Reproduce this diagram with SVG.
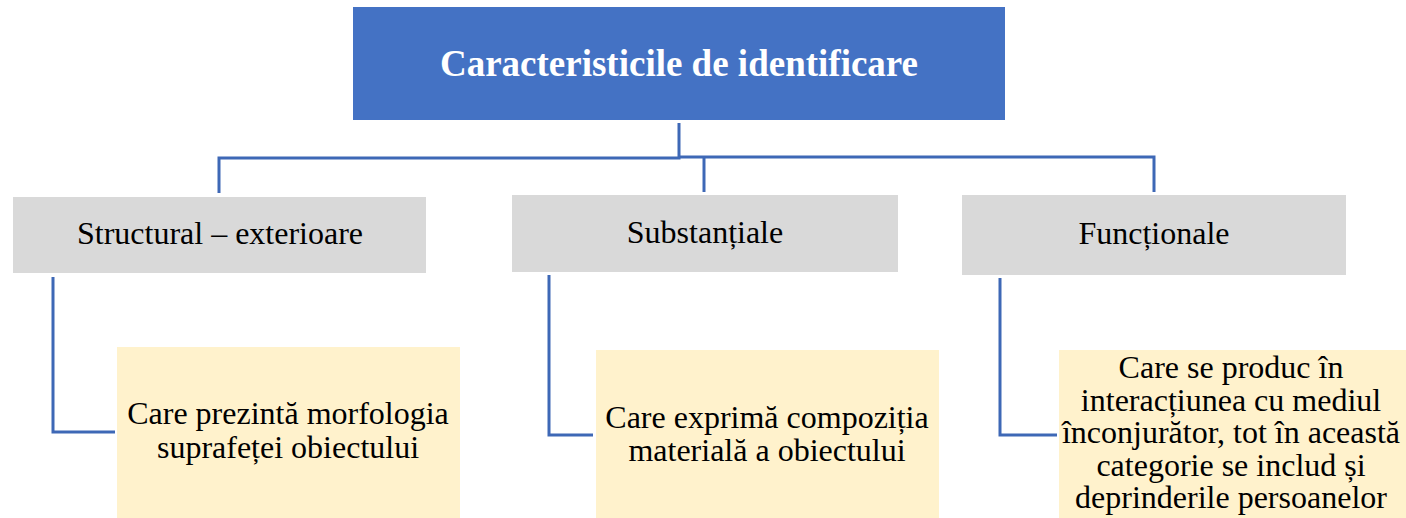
<svg xmlns="http://www.w3.org/2000/svg" width="1406" height="518" viewBox="0 0 1406 518">
<style>
.t{font-family:"Liberation Serif","Times New Roman",serif;font-size:32px;fill:#000;text-anchor:middle}
.s{font-size:31px}
.title{font-family:"Liberation Serif","Times New Roman",serif;font-size:37px;font-weight:bold;fill:#fff;text-anchor:middle}
.gray{fill:#D9D9D9}
.yel{fill:#FFF2CC}
.c{fill:none;stroke:#3E68B6;stroke-width:3}
</style>
<rect width="1406" height="518" fill="#fff"/>
<g id="connectors">
<polyline class="c" points="679,123 679,158 219,158 219,193"/>
<polyline class="c" points="679,157 1154,157 1154,192"/>
<line class="c" x1="704" y1="157" x2="704" y2="192"/>
<polyline class="c" points="53,277 53,432 115,432"/>
<polyline class="c" points="549,275 549,435 593,435"/>
<polyline class="c" points="1000,278 1000,435 1057,435"/>
</g>
<g id="root">
<rect x="353" y="7" width="652" height="113" fill="#4472C4"/>
<text class="title" x="679" y="76">Caracteristicile de identificare</text>
</g>
<g id="structural">
<rect class="gray" x="13" y="197" width="413" height="76"/>
<text class="t" x="220" y="244">Structural – exterioare</text>
</g>
<g id="substantiale">
<rect class="gray" x="512" y="195" width="386" height="77"/>
<text class="t" x="705" y="243">Substanțiale</text>
</g>
<g id="functionale">
<rect class="gray" x="962" y="195" width="384" height="80"/>
<text class="t" x="1154" y="244">Funcționale</text>
</g>
<g id="desc-structural">
<rect class="yel" x="117" y="347" width="343" height="171"/>
<text class="t" x="288" y="424">Care prezintă morfologia</text>
<text class="t" x="288" y="458">suprafeței obiectului</text>
</g>
<g id="desc-substantiale">
<rect class="yel" x="596" y="350" width="343" height="168"/>
<text class="t" x="767" y="428">Care exprimă compoziția</text>
<text class="t" x="767" y="461">materială a obiectului</text>
</g>
<g id="desc-functionale">
<rect class="yel" x="1059" y="350" width="347" height="168"/>
<text class="t" x="1231" y="378">Care se produc în</text>
<text class="t" x="1231" y="411">interacțiunea cu mediul</text>
<text class="t" x="1231" y="443">înconjurător, tot în această</text>
<text class="t" x="1231" y="476">categorie se includ și</text>
<text class="t" x="1231" y="508">deprinderile persoanelor</text>
</g>
</svg>
